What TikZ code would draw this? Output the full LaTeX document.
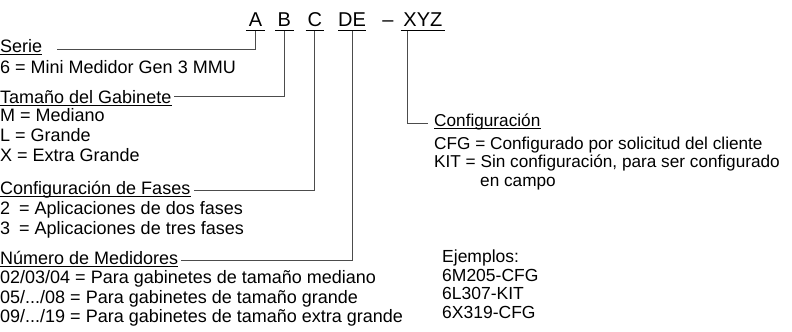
\documentclass[tikz,border=0pt]{standalone}
\usepackage{fontspec}
\setmainfont{Liberation Sans}
\usetikzlibrary{positioning}

\begin{document}
\begin{tikzpicture}[
    x=1bp, y=-1bp,
    code/.style={font=\fontsize{20bp}{20bp}\selectfont, inner sep=0pt,
                 text height=14.5bp, text depth=4.5bp},
    head/.style={font=\fontsize{18bp}{20bp}\selectfont, inner sep=0pt,
                 anchor=base west, text height=13bp, text depth=0pt},
    defs/.style={font=\fontsize{18bp}{19.8bp}\selectfont, inner sep=0pt,
                 anchor=north west, align=left},
    rhead/.style={head, font=\fontsize{17.2bp}{20bp}\selectfont},
    rdefs/.style={defs, font=\fontsize{17.2bp}{18.5bp}\selectfont},
    uline/.style={line width=1.4bp},
    hline/.style={line width=0.8bp},
    lnk/.style={draw=black!70, line width=0.9bp},
  ]
  \useasboundingbox (0,0) rectangle (792,331);

  % ===== model code =====
  \node[code, minimum width=19bp, anchor=base] (A) at (255.5,26) {A};
  \node[code, minimum width=18bp, right=10bp of A] (B) {B};
  \node[code, minimum width=18bp, right=12bp of B] (C) {C};
  \node[code, minimum width=27bp, right=14bp of C] (DE) {DE};
  \node[code, right=16bp of DE] (dash) {--};
  \node[code, minimum width=44bp, right=7bp of dash] (XYZ) {XYZ};
  \foreach \n in {A,B,C,DE,XYZ}
    \draw[uline] (\n.south west) -- (\n.south east);

  % ===== left column =====
  \node[head] (serie) at (0,52) {Serie};
  \node[defs] (serieD) at (0,60) {6 = Mini Medidor Gen 3 MMU};
  \node[head] (gab) at (0,103) {Tamaño del Gabinete};
  \node[defs] (gabD) at (0,108.5) {M = Mediano\\ L = Grande\\ X = Extra Grande};
  \node[head] (fases) at (0,194) {Configuración de Fases};
  \node[defs] (fasesD) at (0,201)
    {2\hspace{4bp} = Aplicaciones de dos fases\\ 3\hspace{4bp} = Aplicaciones de tres fases};
  \node[head] (num) at (0,264) {Número de Medidores};
  \node[defs] (numD) at (0,270)
    {02/03/04 = Para gabinetes de tamaño mediano\\
     05/.../08 = Para gabinetes de tamaño grande\\
     09/.../19 = Para gabinetes de tamaño extra grande};

  % ===== right column =====
  \node[rhead] (conf) at (434,126) {Configuración};
  \node[rdefs] (confD) at (434,136.5)
    {CFG = Configurado por solicitud del cliente\\
     KIT = Sin configuración, para ser configurado\\
     \hspace{46bp}en campo};
  \node[defs, font=\fontsize{17.5bp}{18.5bp}\selectfont] (ejem) at (442,250)
    {Ejemplos:\\ 6M205-CFG\\ 6L307-KIT\\ 6X319-CFG};

  \foreach \n in {serie,gab,fases,num,conf}
    \draw[hline] ([yshift=-2bp]\n.base west) -- ([yshift=-2bp]\n.base east);

  % ===== connectors =====
  \draw[lnk] (A.south) |- ([xshift=15bp, yshift=-4bp]serie.east);
  \draw[lnk] (B.south) |- ([xshift=2bp]gab.east);
  \draw[lnk] (C.south) |- ([xshift=3bp, yshift=-3bp]fases.east);
  \draw[lnk] (DE.south) |- ([xshift=3bp, yshift=-2.5bp]num.east);
  \draw[lnk] ([xshift=7bp]XYZ.south west) |- ([xshift=-6bp, yshift=-3.5bp]conf.west);

\end{tikzpicture}
\end{document}
